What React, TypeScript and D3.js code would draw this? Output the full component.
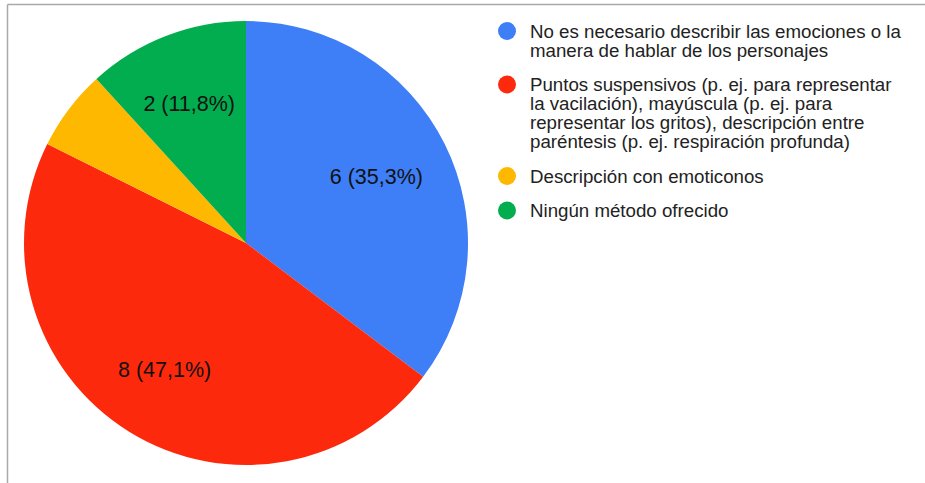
import React from "react";
import * as d3 from "d3";

const categories = [
  "No es necesario describir las emociones o la manera de hablar de los personajes",
  "Puntos suspensivos (p. ej. para representar la vacilación), mayúscula (p. ej. para representar los gritos), descripción entre paréntesis (p. ej. respiración profunda)",
  "Descripción con emoticonos",
  "Ningún método ofrecido",
];
const legendLines = [
  ["No es necesario describir las emociones o la", "manera de hablar de los personajes"],
  [
    "Puntos suspensivos (p. ej. para representar",
    "la vacilación), mayúscula (p. ej. para",
    "representar los gritos), descripción entre",
    "paréntesis (p. ej. respiración profunda)",
  ],
  ["Descripción con emoticonos"],
  ["Ningún método ofrecido"],
];
const values = [6, 8, 1, 2];
const colors = ["#3e7ef6", "#fd290c", "#ffb800", "#01ad4f"];

const W = 925;
const H = 483;

export default function App() {
  const cx = 246;
  const cy = 243;
  const R = 222;
  const total = d3.sum(values);
  const pie = d3.pie<number>().sort(null).value((d) => d);
  const arcs = pie(values);
  const arc = d3.arc<d3.PieArcDatum<number>>().innerRadius(0).outerRadius(R);
  const labelArc = d3.arc<d3.PieArcDatum<number>>().innerRadius(149).outerRadius(149);
  const fmt = (v: number) => ((v / total) * 100).toFixed(1).replace(".", ",");

  const lineH = 19;
  const groupGap = 15.5;
  let y = 31;
  const legendY: number[] = [];
  legendLines.forEach((lines) => {
    legendY.push(y);
    y += lines.length * lineH + groupGap;
  });

  return (
    <div style={{ position: "absolute", left: 0, top: 0 }}>
      <svg width={W} height={H} style={{ display: "block", fontFamily: "'Liberation Sans', Arial, sans-serif" }}>
        <rect x={0} y={0} width={W} height={H} fill="#ffffff" />
        <line x1={7.5} y1={4.5} x2={W} y2={4.5} stroke="#a9a9a9" strokeWidth={1.5} />
        <line x1={7.5} y1={4.5} x2={7.5} y2={H} stroke="#a9a9a9" strokeWidth={1.5} />
        <g transform={`translate(${cx},${cy})`}>
          {arcs.map((a, i) => (
            <path key={i} d={arc(a) || ""} fill={colors[i]} />
          ))}
          {arcs.map((a, i) => {
            if (a.endAngle - a.startAngle < 0.5) return null;
            const [lx, ly] = labelArc.centroid(a);
            return (
              <text
                key={"l" + i}
                x={lx - 3}
                y={ly}
                textAnchor="middle"
                dominantBaseline="central"
                fontSize={21.5}
                fill="#111"
              >
                {`${values[i]} (${fmt(values[i])}%)`}
              </text>
            );
          })}
        </g>
        <g>
          {legendLines.map((lines, i) => (
            <g key={i}>
              <title>{categories[i]}</title>
              <circle cx={507} cy={legendY[i]} r={9} fill={colors[i]} />
              {lines.map((ln, j) => (
                <text
                  key={j}
                  x={530}
                  y={legendY[i] + j * lineH}
                  dominantBaseline="central"
                  fontSize={18.7}
                  fill="#222"
                >
                  {ln}
                </text>
              ))}
            </g>
          ))}
        </g>
      </svg>
    </div>
  );
}
